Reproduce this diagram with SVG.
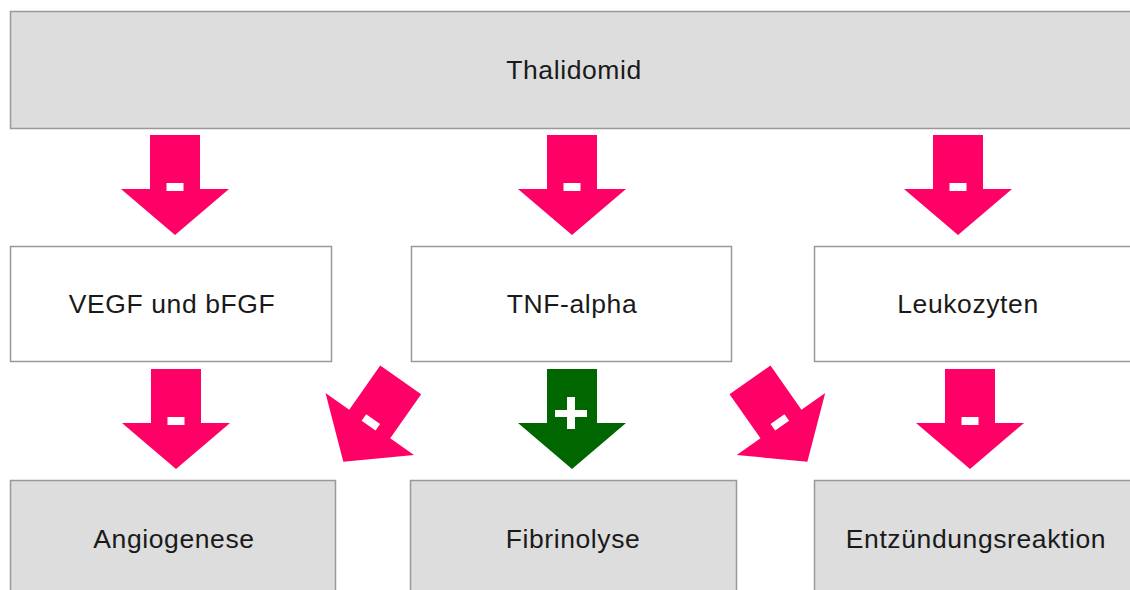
<svg xmlns="http://www.w3.org/2000/svg" width="1130" height="590" viewBox="0 0 1130 590">
  <style>
    .box { stroke: #999999; stroke-width: 1.5; }
    .grey { fill: #dddddd; }
    .white { fill: #ffffff; }
    .label { font-family: "Liberation Sans", Arial, sans-serif; font-size: 26.5px; letter-spacing: 0.6px; fill: #1a1a1a; text-anchor: middle; }
    .inhibit { fill: #ff0066; }
    .promote { fill: #006600; }
    .sign { fill: #ffffff; }
  </style>
  <defs>
    <!-- block arrow pointing down: shaft top at y=0, tip at y=100 -->
    <polygon id="arrow" points="-25,0 25,0 25,54 54,54 0,100 -54,54 -25,54"/>
    <g id="minus-arrow">
      <use href="#arrow" class="inhibit"/>
      <rect class="sign" x="-8.5" y="48" width="17" height="8"/>
    </g>
  </defs>
  <rect width="1130" height="590" fill="#ffffff"/>

  <g id="thalidomid">
    <rect class="box grey" x="10.5" y="11.5" width="1130" height="117"/>
    <text class="label" x="574" y="79">Thalidomid</text>
  </g>

  <g id="vegf">
    <rect class="box white" x="10.5" y="246.5" width="321" height="115"/>
    <text class="label" x="172" y="313">VEGF und bFGF</text>
  </g>
  <g id="tnf">
    <rect class="box white" x="411.5" y="246.5" width="320" height="115"/>
    <text class="label" x="572" y="313">TNF-alpha</text>
  </g>
  <g id="leukozyten">
    <rect class="box white" x="814.5" y="246.5" width="330" height="115"/>
    <text class="label" x="968" y="313">Leukozyten</text>
  </g>

  <g id="angiogenese">
    <rect class="box grey" x="10.5" y="480.5" width="325" height="120"/>
    <text class="label" x="174" y="548">Angiogenese</text>
  </g>
  <g id="fibrinolyse">
    <rect class="box grey" x="410.5" y="480.5" width="326" height="120"/>
    <text class="label" x="573" y="548">Fibrinolyse</text>
  </g>
  <g id="entzuendung">
    <rect class="box grey" x="814.5" y="480.5" width="330" height="120"/>
    <text class="label" x="976" y="548">Entzündungsreaktion</text>
  </g>

  <g id="connectors">
    <!-- Thalidomid inhibits the three middle nodes -->
    <use href="#minus-arrow" transform="translate(175,135)"/>
    <use href="#minus-arrow" transform="translate(572,135)"/>
    <use href="#minus-arrow" transform="translate(958,135)"/>
    <!-- straight effects on the bottom row -->
    <use href="#minus-arrow" transform="translate(176,369)"/>
    <g transform="translate(572,369)">
      <use href="#arrow" class="promote"/>
      <rect class="sign" x="-5" y="28" width="8" height="32"/>
      <rect class="sign" x="-17" y="41" width="32" height="7"/>
    </g>
    <use href="#minus-arrow" transform="translate(970,369)"/>
    <!-- diagonal effects of TNF-alpha -->
    <use href="#minus-arrow" transform="translate(400.7,379.8) rotate(35)"/>
    <use href="#minus-arrow" transform="translate(750,379.8) rotate(-35)"/>
  </g>
</svg>
